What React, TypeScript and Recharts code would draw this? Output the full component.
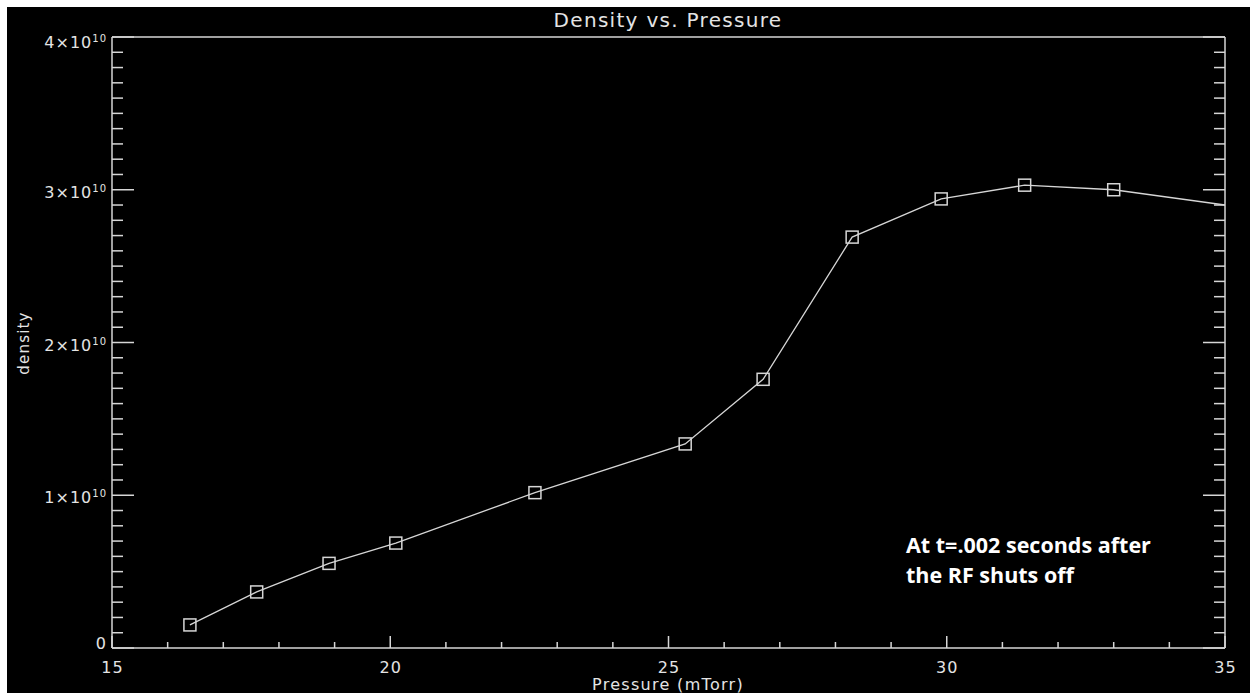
import React from 'react';
import { LineChart, Line, XAxis, YAxis } from 'recharts';

// Data (pressure in mTorr, density)
const pressure = [16.4, 17.6, 18.9, 20.1, 22.6, 25.3, 26.7, 28.3, 29.9, 31.4, 33.0, 36.6];
const density = [1.51e9, 3.67e9, 5.54e9, 6.87e9, 1.017e10, 1.336e10, 1.759e10, 2.69e10, 2.94e10, 3.03e10, 3.0e10, 2.82e10];

// Axis ticks
const xMajorTicks = [15, 20, 25, 30, 35];
const yMajorTicks = [0, 1e10, 2e10, 3e10, 4e10];
const xAllTicks = Array.from({ length: 21 }, (_, i) => 15 + i);
const yAllTicks = Array.from({ length: 41 }, (_, i) => i * 1e9);

const titleText = 'Density vs. Pressure';
const xLabelText = 'Pressure (mTorr)';
const yLabelText = 'density';
const noteLines = ['At t=.002 seconds after', 'the RF shuts off'];

const data = pressure.map((p, i) => ({ p, d: density[i] }));

const FG = '#d6d6d6';
const TXT = '#e4e4e4';
const FONT = '"DejaVu Sans", sans-serif';

const isXMajor = (v: number) => xMajorTicks.includes(v);
const isYMajor = (v: number) => yMajorTicks.includes(v);

const BottomTick = (props: any) => {
  const { x, y, payload } = props;
  const major = isXMajor(payload.value);
  return (
    <g>
      <line x1={x} x2={x} y1={y} y2={y - (major ? 12 : 6)} stroke={FG} strokeWidth={1.5} />
      {major && (
        <text x={x + 0.5} y={y + 25} textAnchor="middle" fill={TXT} fontSize={16} letterSpacing={1} fontFamily={FONT}>
          {payload.value}
        </text>
      )}
    </g>
  );
};

const TopTick = (props: any) => {
  const { x, y, payload } = props;
  const major = isXMajor(payload.value);
  return <line x1={x} x2={x} y1={y} y2={y + (major ? 12 : 6)} stroke={FG} strokeWidth={1.5} />;
};

const LeftTick = (props: any) => {
  const { x, y, payload } = props;
  const v = payload.value as number;
  const major = isYMajor(v);
  let label: React.ReactNode = null;
  if (major) {
    const n = Math.round(v / 1e10);
    const off = v === 0 ? 1 : n === 4 ? 11 : 8;
    label =
      v === 0 ? (
        <text x={x - 5} y={y + off} textAnchor="end" fill={TXT} fontSize={16} letterSpacing={1} fontFamily={FONT}>
          0
        </text>
      ) : (
        <text x={x - 5} y={y + off} textAnchor="end" fill={TXT} fontSize={16} letterSpacing={1} fontFamily={FONT}>
          <tspan>{`${n}×10`}</tspan>
          <tspan fontSize={10} dy={-6}>10</tspan>
        </text>
      );
  }
  return (
    <g>
      <line x1={x} x2={x + (major ? 22 : 11)} y1={y} y2={y} stroke={FG} strokeWidth={1.5} />
      {label}
    </g>
  );
};

const RightTick = (props: any) => {
  const { x, y, payload } = props;
  const major = isYMajor(payload.value);
  return <line x1={x} x2={x - (major ? 22 : 11)} y1={y} y2={y} stroke={FG} strokeWidth={1.5} />;
};

const SquareDot = (props: any) => {
  const { cx, cy, index } = props;
  if (cx == null || cy == null) return <g key={`d${index}`} />;
  return (
    <rect key={`d${index}`} x={cx - 6} y={cy - 6} width={12} height={12} fill="none" stroke={FG} strokeWidth={1.5} />
  );
};

export default function App() {
  return (
    <div style={{ position: 'absolute', left: 7, top: 7, width: 1243, height: 686, background: '#000', overflow: 'hidden' }}>
      <LineChart width={1243} height={686} data={data} margin={{ top: 29, right: 24, bottom: 0, left: 0 }}>
        <XAxis
          xAxisId="b"
          dataKey="p"
          type="number"
          domain={[15, 35]}
          allowDataOverflow
          ticks={xAllTicks}
          interval={0}
          tick={<BottomTick />}
          tickLine={false}
          tickSize={0}
          tickMargin={0}
          axisLine={{ stroke: FG, strokeWidth: 1.5 }}
          height={45}
        />
        <XAxis
          xAxisId="t"
          orientation="top"
          type="number"
          domain={[15, 35]}
          allowDataOverflow
          ticks={xAllTicks}
          interval={0}
          tick={<TopTick />}
          tickLine={false}
          tickSize={0}
          tickMargin={0}
          axisLine={{ stroke: FG, strokeWidth: 1.5 }}
          height={1}
        />
        <YAxis
          yAxisId="l"
          type="number"
          domain={[0, 4e10]}
          allowDataOverflow
          ticks={yAllTicks}
          interval={0}
          tick={<LeftTick />}
          tickLine={false}
          tickSize={0}
          tickMargin={0}
          axisLine={{ stroke: FG, strokeWidth: 1.5 }}
          width={105}
        />
        <YAxis
          yAxisId="r"
          orientation="right"
          type="number"
          domain={[0, 4e10]}
          allowDataOverflow
          ticks={yAllTicks}
          interval={0}
          tick={<RightTick />}
          tickLine={false}
          tickSize={0}
          tickMargin={0}
          axisLine={{ stroke: FG, strokeWidth: 1.5 }}
          width={1}
        />
        <Line
          xAxisId="b"
          yAxisId="l"
          dataKey="d"
          type="linear"
          stroke={FG}
          strokeWidth={1.3}
          dot={SquareDot}
          activeDot={false}
          isAnimationActive={false}
        />
        <text x={661} y={20} textAnchor="middle" fill={TXT} fontSize={20} letterSpacing={1.3} fontFamily={FONT}>
          {titleText}
        </text>
        <text x={661} y={683} textAnchor="middle" fill={TXT} fontSize={16} letterSpacing={1.3} fontFamily={FONT}>
          {xLabelText}
        </text>
        <text
          x={22}
          y={336}
          textAnchor="middle"
          fill={TXT}
          fontSize={15}
          letterSpacing={1.2}
          fontFamily={FONT}
          transform="rotate(-90 22 336)"
        >
          {yLabelText}
        </text>
        {noteLines.map((t, i) => (
          <text key={t} x={899} y={546 + i * 30} fill="#ffffff" fontSize={21.5} fontWeight={700} fontFamily='"Open Sans", sans-serif'>
            {t}
          </text>
        ))}
      </LineChart>
    </div>
  );
}
